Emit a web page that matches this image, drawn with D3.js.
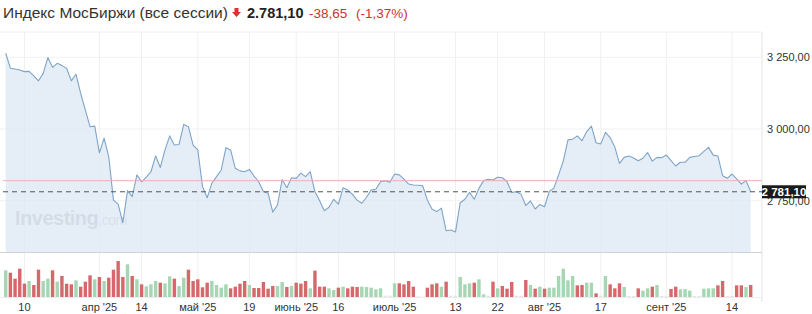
<!DOCTYPE html>
<html>
<head>
<meta charset="utf-8">
<script src="https://cdn.jsdelivr.net/npm/d3@7"></script>
<style>
  html, body { margin: 0; padding: 0; background: #fff; }
  svg { display: block; font-family: Arial, "Liberation Sans", Helvetica, sans-serif; }
</style>
</head>
<body>
<svg id="chart" width="812" height="314"></svg>
<script>
// --- Données ---
const title = "Индекс МосБиржи (все сессии)";
const lastPrice = 2781.10;
const change = -38.65;
const changePct = -1.37;
const prevClose = 2819.75;

// clôtures par séance (mars -> sept. 2025)
const closes = [
  3264,3212,3209,3206,3200,3201,3185,3168,3194,3249,
  3215,3229,3221,3212,3168,3191,3124,3066,3008,3010,
  2917,2968,2903,2752,2738,2673,2785,2764,2840,2816,
  2832,2851,2906,2866,2927,2976,2944,2946,3016,3008,
  2944,2927,2799,2760,2811,2834,2857,2935,2927,2863,
  2854,2851,2859,2836,2816,2781,2776,2710,2735,2824,
  2795,2830,2828,2846,2834,2851,2781,2750,2715,2727,
  2755,2738,2795,2787,2772,2752,2741,2762,2787,2790,
  2816,2820,2814,2843,2840,2825,2808,2805,2804,2802,
  2752,2720,2712,2724,2645,2648,2641,2743,2755,2779,
  2755,2793,2820,2825,2822,2832,2830,2816,2779,2781,
  2772,2733,2749,2721,2737,2729,2782,2794,2840,2888,
  2962,2964,2976,2959,2991,3010,2952,2948,2988,2970,
  2937,2880,2901,2906,2899,2889,2898,2918,2888,2901,
  2900,2909,2890,2871,2884,2884,2901,2904,2907,2922,
  2936,2909,2906,2837,2828,2843,2826,2808,2820,2781.10
];

// volumes (unités relatives)
const volumes = [
  80,73,55,85,40,48,36,82,48,55,
  80,46,63,40,38,50,31,46,65,53,
  60,48,58,82,108,60,98,63,53,38,
  32,38,48,43,41,62,55,33,58,82,
  48,53,29,43,48,36,28,38,26,31,
  40,48,36,27,27,45,25,33,33,45,
  30,33,43,40,48,26,79,31,31,26,
  21,28,31,26,31,30,31,30,28,23,
  26,4,4,41,41,38,48,31,2,1,
  28,38,41,31,46,4,4,60,38,41,
  43,53,8,4,46,26,33,25,45,4,
  4,51,36,25,31,25,28,28,63,85,
  50,63,35,36,43,43,11,4,63,38,
  26,41,30,3,3,26,19,26,31,36,
  3,3,24,31,23,24,19,3,3,25,
  26,26,35,48,3,3,35,35,30,36
];

// couleur des barres de volume : G = hausse, R = baisse
const volDir = (
  "GRRRRGRRGG" + "RGRRRGRRRG" + "RGRRRRGRGR" + "GGGRGGRGGR" +
  "RRRRGGGGRR" + "RRGRRRRRGG" + "RGRRRGRRRG" + "GRGRRRGGGG" +
  "GGGGRRRRGG" + "RRRGRGGGGG" + "RGGGRGRRRG" + "GRGRGRGGGG" +
  "GGRRGGRGGR" + "RRGGGRGGRG" + "GGRRGGGGGG" + "GGRRGGRRGR"
).split("");

const xTickLabels = ["10", "апр '25", "14", "май '25", "19", "июнь '25", "16",
                     "июль '25", "13", "22", "авг '25", "17", "сент '25", "14"];
const xTickIdx = [4, 20, 29, 41, 52, 62, 71, 83, 96, 105, 115, 127, 141, 155];
const yTicks = [2750, 3000, 3250];

// --- Mise en page ---
const svg = d3.select("#chart");
const plotRight = 762;
const priceTop = 32, priceBottom = 252;
const volBase = 297, volHeight = 36;

const ru = d3.formatLocale({ decimal: ",", thousands: "\u00a0", grouping: [3], currency: ["", ""] });
const fmtAxis = ru.format(",.2f");
const fmtHead = d3.formatLocale({ decimal: ",", thousands: ".", grouping: [3], currency: ["", ""] }).format(",.2f");

const x = d3.scaleLinear().domain([0, closes.length - 1]).range([5.7, 750.7]);
const y = d3.scaleLinear().domain([2750, 3250]).range([200.7, 57.3]);
const yVol = d3.scaleLinear().domain([0, d3.max(volumes)]).range([volBase, volBase - volHeight]);

// grilles verticales
svg.append("g").selectAll("line")
  .data(xTickIdx)
  .join("line")
  .attr("x1", d => x(d)).attr("x2", d => x(d))
  .attr("y1", priceTop).attr("y2", 300)
  .attr("stroke", "#f0f0f0");

// grilles horizontales
svg.append("g").selectAll("line")
  .data(yTicks)
  .join("line")
  .attr("x1", 0).attr("x2", plotRight)
  .attr("y1", d => y(d)).attr("y2", d => y(d))
  .attr("stroke", "#f2f2f2");

// cadre
svg.append("line").attr("x1", 0).attr("x2", plotRight).attr("y1", priceTop).attr("y2", priceTop).attr("stroke", "#f3eeee");
svg.append("line").attr("x1", plotRight).attr("x2", plotRight).attr("y1", priceTop).attr("y2", 302).attr("stroke", "#e4e4e4");

// filigrane
const wm = svg.append("text").attr("x", 15).attr("y", 225)
  .attr("fill", "#b9b9b9").attr("font-size", 20).attr("font-weight", "bold")
  .style("letter-spacing", "-0.5px");
wm.append("tspan").text("Investing");
wm.append("tspan").attr("font-weight", "normal").attr("font-size", 14).attr("fill", "#c9c9c9").text(".com");

// aire + ligne
const area = d3.area().x((d, i) => x(i)).y0(priceBottom).y1(d => y(d));
const line = d3.line().x((d, i) => x(i)).y(d => y(d));

svg.append("path").datum(closes)
  .attr("d", area)
  .attr("fill", "#dce8f4").attr("fill-opacity", 0.75);

svg.append("path").datum(closes)
  .attr("d", line)
  .attr("fill", "none").attr("stroke", "#7ea4c8").attr("stroke-width", 1.1)
  .attr("stroke-linejoin", "round");

// clôture précédente
svg.append("line")
  .attr("x1", 3).attr("x2", plotRight)
  .attr("y1", y(prevClose)).attr("y2", y(prevClose))
  .attr("stroke", "#eab0b0").attr("stroke-width", 1);

// dernier cours
svg.append("line")
  .attr("x1", 3).attr("x2", plotRight)
  .attr("y1", y(lastPrice)).attr("y2", y(lastPrice))
  .attr("stroke", "#555").attr("stroke-width", 1).attr("stroke-dasharray", "5,4");

// séparateur prix / volume
svg.append("line").attr("x1", 0).attr("x2", plotRight).attr("y1", priceBottom + 0.5).attr("y2", priceBottom + 0.5).attr("stroke", "#cfd3d8");

// axe des prix (droite)
svg.append("g").selectAll("text")
  .data(yTicks)
  .join("text")
  .attr("x", 767).attr("y", d => y(d) + 4)
  .attr("font-size", 11).attr("fill", "#333")
  .text(d => fmtAxis(d));

// étiquette du dernier cours
svg.append("rect")
  .attr("x", plotRight).attr("y", y(lastPrice) - 6.5)
  .attr("width", 44).attr("height", 13)
  .attr("fill", "#1a1a1a");
svg.append("text")
  .attr("x", plotRight + 22).attr("y", y(lastPrice) + 4)
  .attr("text-anchor", "middle")
  .attr("font-size", 11.5).attr("font-weight", "bold").attr("fill", "#fff")
  .text(fmtAxis(lastPrice));

// volumes
svg.append("g").selectAll("rect")
  .data(volumes)
  .join("rect")
  .attr("x", (d, i) => x(i) - 1.7)
  .attr("width", 3.4)
  .attr("y", d => yVol(d))
  .attr("height", d => volBase - yVol(d))
  .attr("fill", (d, i) => d < 6 ? "#e4e4e4" : (volDir[i] === "G" ? "#a6d6b3" : "#d5686b"));

svg.append("line").attr("x1", 0).attr("x2", plotRight).attr("y1", volBase + 0.5).attr("y2", volBase + 0.5).attr("stroke", "#ececec");

// axe du temps
svg.append("g").selectAll("text")
  .data(xTickIdx)
  .join("text")
  .attr("x", d => x(d)).attr("y", 311)
  .attr("text-anchor", "middle")
  .attr("font-size", 11).attr("fill", "#333")
  .text((d, i) => xTickLabels[i]);

// --- En-tête ---
const head = svg.append("g");
head.append("text").attr("x", 3).attr("y", 17.5)
  .attr("font-size", 15.5).attr("fill", "#333").text(title);

// flèche rouge
head.append("path")
  .attr("d", "M234.5,8 h4 v4 h2.5 l-4.5,5 l-4.5,-5 h2.5 z")
  .attr("fill", "#d8312f");

head.append("text").attr("x", 247).attr("y", 17.5)
  .attr("font-size", 14.5).attr("font-weight", "bold").attr("fill", "#222")
  .text(fmtHead(lastPrice));
head.append("text").attr("x", 309).attr("y", 17.5)
  .attr("font-size", 13.5).attr("fill", "#d0312d")
  .text(ru.format(".2f")(change).replace("−", "-"));
head.append("text").attr("x", 356).attr("y", 17.5)
  .attr("font-size", 13.5).attr("fill", "#d0312d")
  .text("(" + ru.format(".2f")(changePct).replace("−", "-") + "%)");
</script>
</body>
</html>
